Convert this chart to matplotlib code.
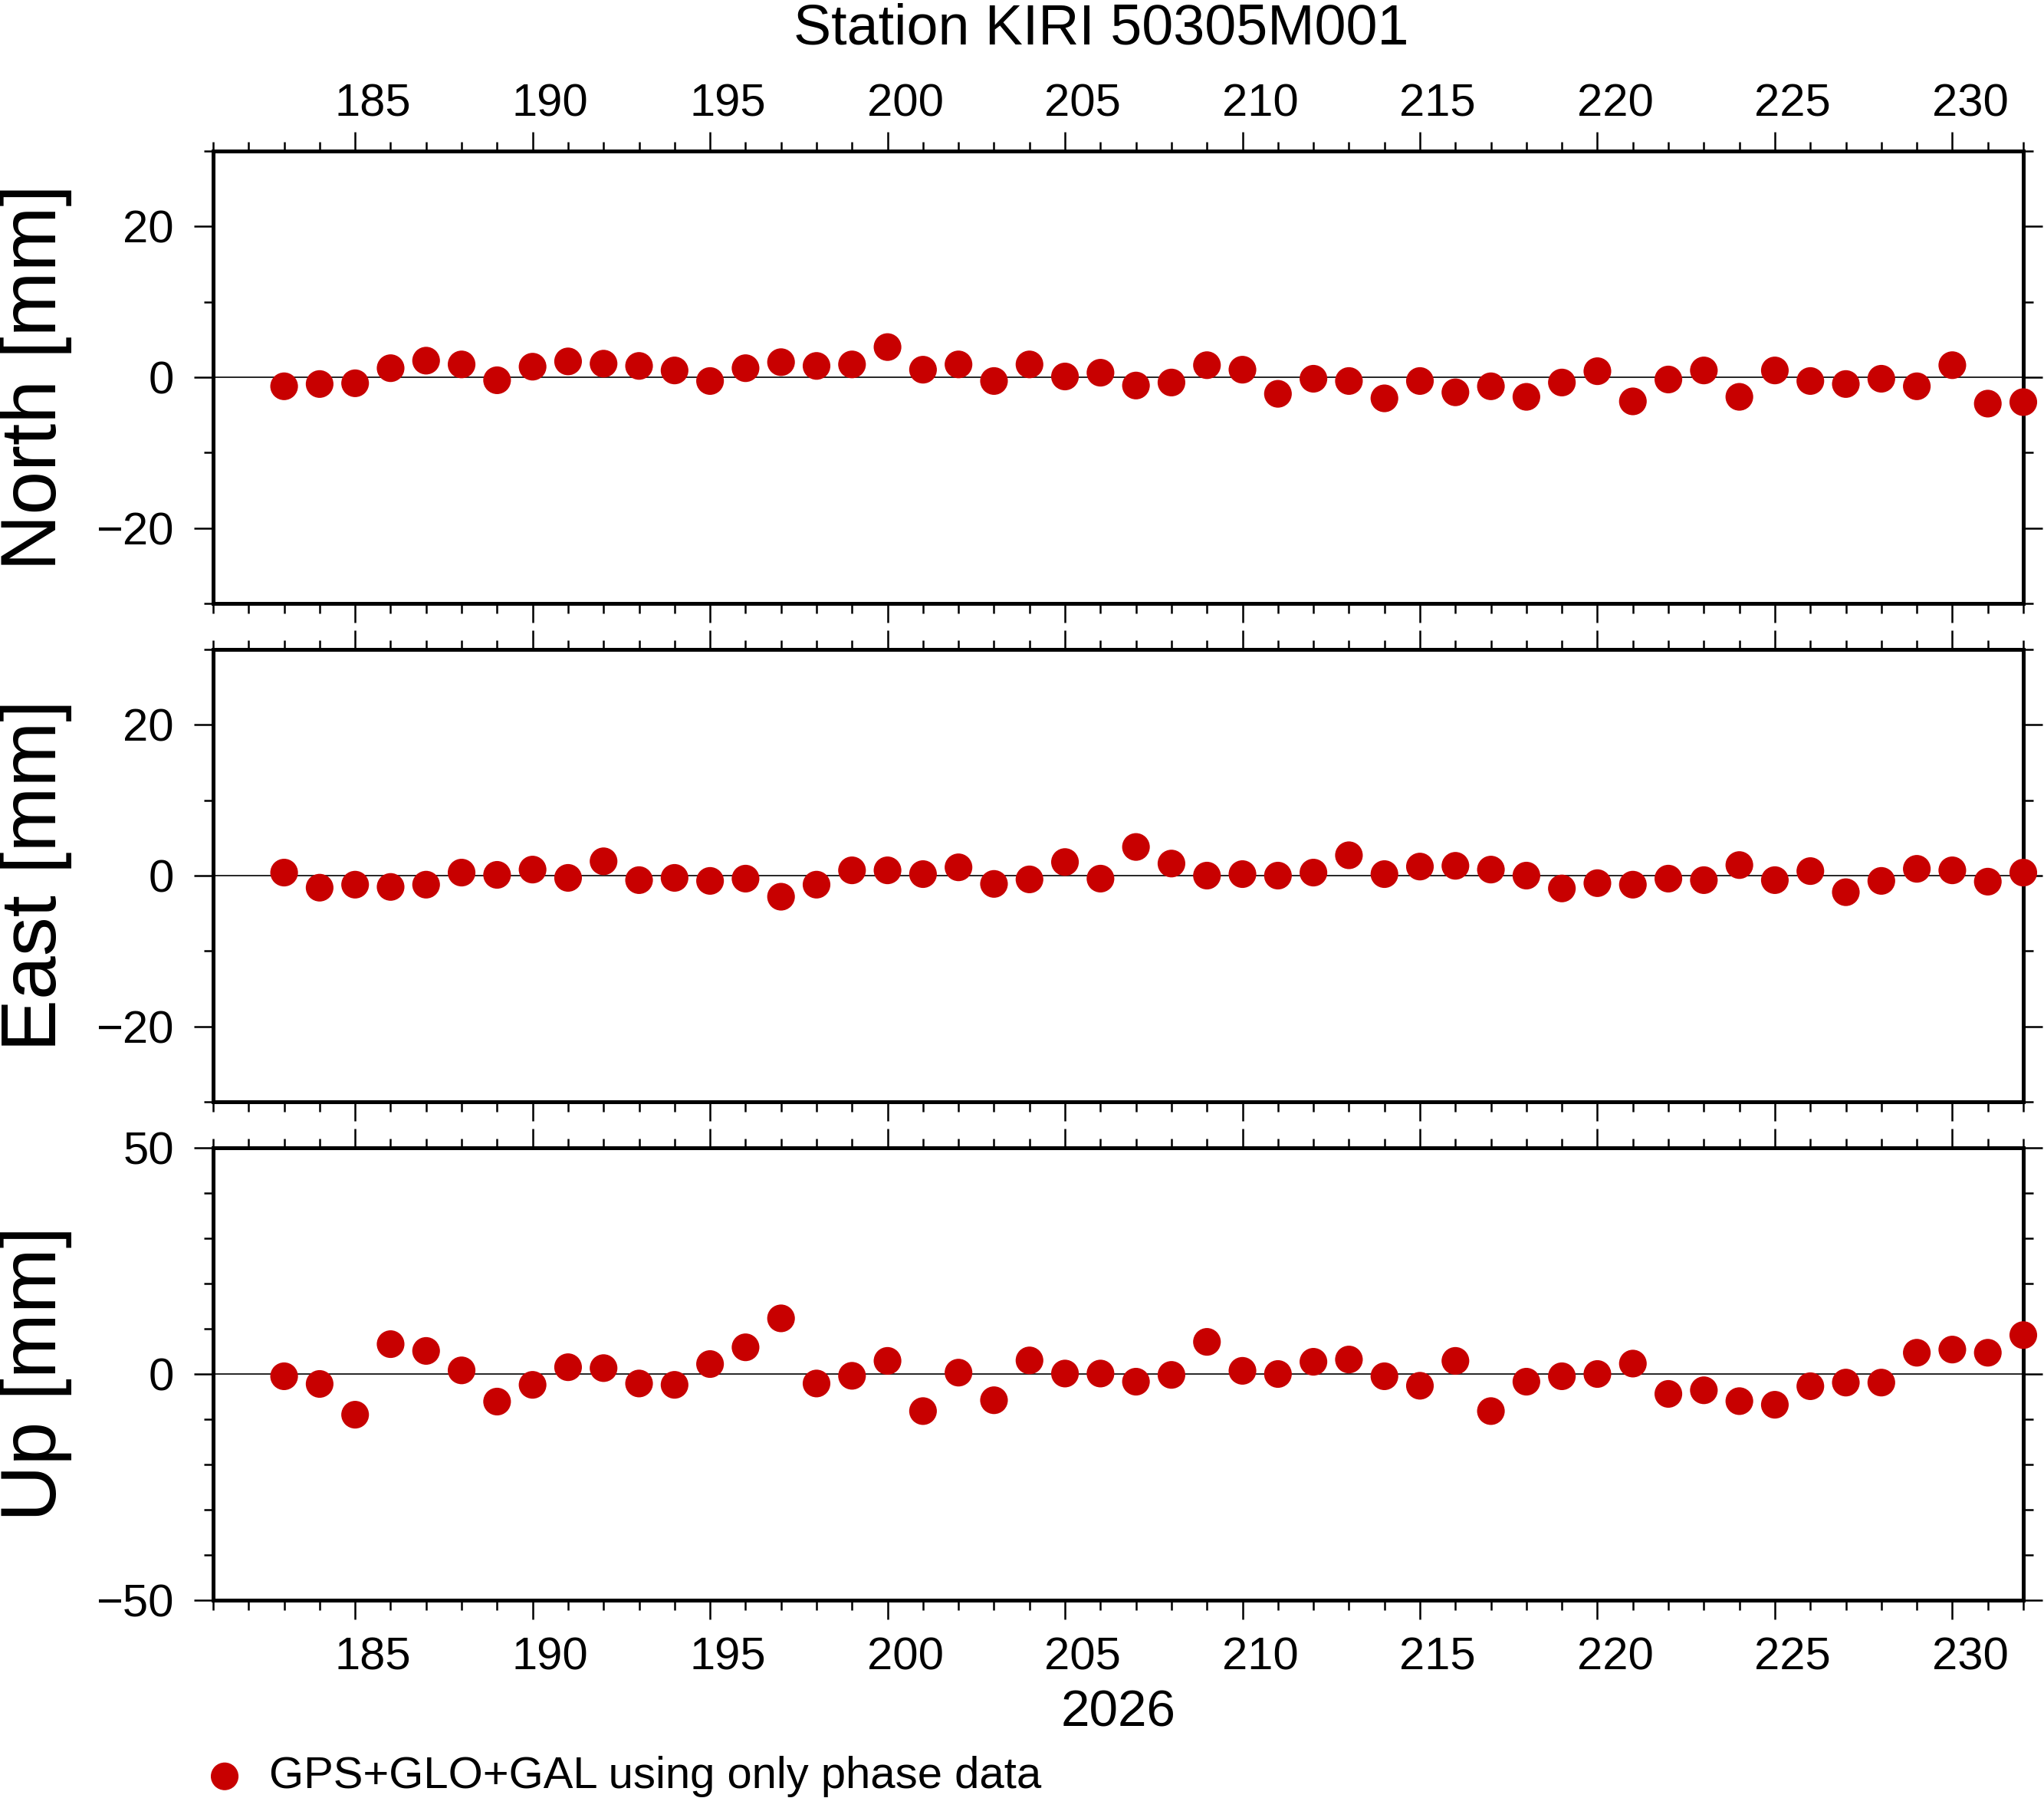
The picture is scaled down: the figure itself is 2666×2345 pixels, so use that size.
import matplotlib.pyplot as plt
import matplotlib.transforms as mtransforms
from matplotlib.ticker import MultipleLocator, FixedLocator

plt.rcParams['font.family'] = ['Liberation Sans', 'DejaVu Sans']

days = list(range(183, 233))

north = [-1.2, -0.9, -0.8, 1.2, 2.2, 1.7, -0.4, 1.4, 2.1, 1.8,
         1.5, 0.9, -0.5, 1.2, 2.0, 1.5, 1.7, 4.0, 1.0, 1.7,
         -0.5, 1.7, 0.1, 0.6, -1.1, -0.7, 1.6, 1.0, -2.2, -0.2,
         -0.5, -2.8, -0.5, -2.0, -1.2, -2.6, -0.7, 0.8, -3.2, -0.3,
         0.9, -2.6, 0.9, -0.5, -0.9, -0.2, -1.2, 1.6, -3.5, -3.3]

east = [0.4, -1.6, -1.2, -1.5, -1.2, 0.4, 0.1, 0.8, -0.3, 1.9,
        -0.6, -0.3, -0.7, -0.4, -2.8, -1.2, 0.7, 0.7, 0.2, 1.1,
        -1.1, -0.5, 1.8, -0.4, 3.8, 1.6, 0.0, 0.2, 0.0, 0.4,
        2.7, 0.2, 1.2, 1.3, 0.8, 0.0, -1.7, -1.0, -1.2, -0.4,
        -0.6, 1.4, -0.6, 0.6, -2.2, -0.7, 0.9, 0.7, -0.8, 0.4]

up = [-0.5, -2.2, -9.0, 6.6, 5.1, 0.8, -6.1, -2.4, 1.5, 1.3,
      -2.1, -2.4, 2.2, 5.9, 12.3, -2.1, -0.4, 2.9, -8.2, 0.3,
      -5.8, 3.0, 0.1, 0.1, -1.7, -0.2, 7.1, 0.7, 0.0, 2.7,
      3.2, -0.5, -2.6, 2.9, -8.2, -1.7, -0.5, 0.0, 2.3, -4.4,
      -3.6, -6.0, -6.8, -2.7, -1.9, -1.9, 4.7, 5.4, 4.7, 8.6]

components = ["North [mm]", "East [mm]", "Up [mm]"]
series = [north, east, up]
ylims = [(-30, 30), (-30, 30), (-50, 50)]
ymajor = [20, 20, 50]
xmajor = [185, 190, 195, 200, 205, 210, 215, 220, 225, 230]

red = "#c80000"
W, H = 2666, 2345
dpi = 200
fig = plt.figure(figsize=(W / dpi, H / dpi), dpi=dpi)

left = 278 / W
width = (2639 - 278) / W
height = 590 / H
bottoms = [1 - 787 / H, 1 - 1437 / H, 1 - 2087 / H]

# labels are centred on the day interval (GMT style)
half_day = (2639 - 278) / 51 / 2 / dpi
shift_x = mtransforms.ScaledTranslation(half_day, 0, fig.dpi_scale_trans)
shift_top = mtransforms.ScaledTranslation(half_day, -14 / dpi, fig.dpi_scale_trans)

axes = []
for i in range(3):
    ax = fig.add_axes([left, bottoms[i], width, height])
    ax.axhline(0, color="black", lw=0.6, zorder=1)
    sc = ax.scatter(days, series[i], s=13 ** 2, color=red, edgecolors="none",
                    zorder=3, clip_on=False, label="GPS+GLO+GAL using only phase data")
    ax.set_xlim(181, 232)
    ax.set_ylim(*ylims[i])
    ax.xaxis.set_major_locator(FixedLocator(xmajor))
    ax.xaxis.set_minor_locator(MultipleLocator(1))
    ax.yaxis.set_major_locator(MultipleLocator(ymajor[i]))
    ax.yaxis.set_minor_locator(MultipleLocator(10))
    for s in ax.spines.values():
        s.set_linewidth(1.8)
    ax.tick_params(which="both", direction="out", top=True, bottom=True,
                   left=True, right=True, width=0.9, labelsize=21.5)
    ax.tick_params(which="major", length=9)
    ax.tick_params(which="minor", length=4.5)
    ax.tick_params(axis="y", which="major", pad=9.4)
    ax.tick_params(axis="x", which="major", pad=8,
                   labeltop=(i == 0), labelbottom=(i == 2))
    for t in ax.xaxis.get_major_ticks():
        t.label1.set_transform(t.label1.get_transform() + shift_x)
        t.label2.set_transform(t.label2.get_transform() + shift_top)
    yc = bottoms[i] + height / 2
    fig.text(73 / W, yc, components[i], fontsize=36.7, rotation=90,
             rotation_mode="anchor", ha="center", va="baseline")
    axes.append(ax)

fig.text(1436 / W, 1 - 57 / H, "Station KIRI 50305M001", fontsize=26.5,
         ha="center", va="baseline")
fig.text(left + width / 2, 1 - 2252 / H, "2026", fontsize=24.3,
         ha="center", va="baseline")

fig.legend(handles=[sc], loc="center left", bbox_to_anchor=(264 / W, 1 - 2317 / H),
           frameon=False, borderpad=0, borderaxespad=0, handlelength=1.0,
           handletextpad=0.5, fontsize=20.9)

fig.savefig("out.png", dpi=dpi)
